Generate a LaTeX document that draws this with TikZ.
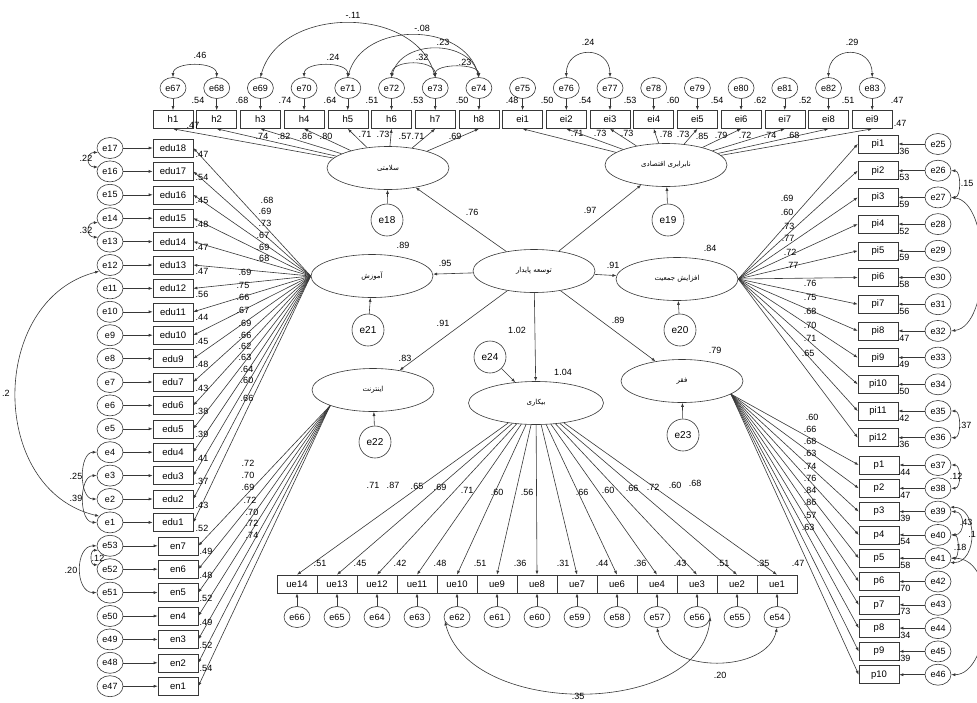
\documentclass[tikz,border=0pt]{standalone}
\usepackage{fontspec}
\setmainfont{Liberation Sans}
\newfontfamily\arabicfont[Script=Arabic]{DejaVu Sans}
\TeXXeTstate=1
\usetikzlibrary{shapes.geometric,arrows.meta}
\newcommand{\fa}[1]{{\arabicfont\fontsize{7}{8}\selectfont\beginR #1\endR}}
\begin{document}
\begin{tikzpicture}[x=1pt,y=-1pt,
  every node/.style={font=\fontsize{9}{10}\selectfont},
  ln/.style={draw=black!78, line width=0.6pt},
  arr/.style={ln, -{Latex[length=4pt,width=3pt]}},
  dbl/.style={ln, {Latex[length=4pt,width=3pt]}-{Latex[length=4pt,width=3pt]}},
  obs/.style={draw=black!78, line width=0.6pt, rectangle, minimum width=40pt, minimum height=18pt, inner sep=0, font=\fontsize{9.5}{10}\selectfont},
  err/.style={draw=black!78, line width=0.6pt, ellipse, minimum width=26pt, minimum height=21pt, inner sep=0, font=\fontsize{9}{10}\selectfont},
  lat/.style={draw=black!78, line width=0.6pt, ellipse, minimum width=122pt, minimum height=43pt, inner sep=0},
  dis/.style={draw=black!78, line width=0.6pt, circle, minimum size=32pt, inner sep=0, font=\fontsize{10}{11}\selectfont},
  lb/.style={inner sep=0}]
\useasboundingbox (0,0) rectangle (977,702);
\fill[white] (0,0) rectangle (977,702);

% ---------- latent variables ----------
\node[lat] (S) at (388,168) {\fa{سلامتی}};
\node[lat] (E) at (666,165) {\fa{نابرابری اقتصادی}};
\node[lat] (T) at (534,271) {\fa{توسعه پایدار}};
\node[lat] (A) at (372,276) {\fa{آموزش}};
\node[lat] (J) at (677,279) {\fa{افزایش جمعیت}};
\node[lat] (I) at (373,390) {\fa{اینترنت}};
\node[lat, minimum width=135pt] (B) at (536,403) {\fa{بیکاری}};
\node[lat] (F) at (682,381) {\fa{فقر}};

\node[dis] (e18) at (387,220) {e18};
\node[dis] (e19) at (668,220) {e19};
\node[dis] (e21) at (368,330) {e21};
\node[dis] (e20) at (680,330) {e20};
\node[dis] (e22) at (375,442) {e22};
\node[dis] (e24) at (490,357) {e24};
\node[dis] (e23) at (683,435) {e23};

\foreach \d/\l in {e18/S,e19/E,e21/A,e20/J,e22/I,e24/B,e23/F} \draw[arr] (\d) -- (\l);
\foreach \l in {S,E,A,J,I,B,F} \draw[arr] (T) -- (\l);

% structural labels
\node[lb] (s1) at (472,212) {.76};
\node[lb] (s2) at (590,210) {.97};
\node[lb] (s3) at (403,245) {.89};
\node[lb] (s4) at (445,263) {.95};
\node[lb] (s5) at (613,265) {.91};
\node[lb] (s6) at (710,248) {.84};
\node[lb] (s7) at (443,323) {.91};
\node[lb] (s8) at (517,330) {1.02};
\node[lb] (s9) at (618,320) {.89};
\node[lb] (s10) at (405,358) {.83};
\node[lb] (s11) at (563,372) {1.04};
\node[lb] (s12) at (715,350) {.79};

% ---------- top row ----------
\foreach \n/\e [count=\i from 0] in {h1/e67,h2/e68,h3/e69,h4/e70,h5/e71,h6/e72,h7/e73,h8/e74,ei1/e75,ei2/e76,ei3/e77,ei4/e78,ei5/e79,ei6/e80,ei7/e81,ei8/e82,ei9/e83}{
  \node[obs] (\n) at ({173+43.7*\i},119.5) {\n};
  \node[err] (\e) at ({173+43.7*\i},88) {\e};
  \draw[arr] (\e) -- (\n);
}
\foreach \n in {h1,h2,h3,h4,h5,h6,h7,h8} \draw[arr] (S) -- (\n.south);
\foreach \n in {ei1,ei2,ei3,ei4,ei5,ei6,ei7,ei8,ei9} \draw[arr] (E) -- (\n.south);

\foreach \x/\t [count=\k] in {198/.54,242/.68,285/.74,330/.64,372/.51,417/.53,462/.50,512/.48,547/.50,585/.54,630/.53,673/.60,717/.54,760/.62,805/.52,848/.51,897/.47}
  \node[lb] (rt\k) at (\x,100) {\t};
\node[lb] (rtx1) at (193,125) {.47};
\node[lb] (rtx2) at (900,123) {.47};

\foreach \x/\y/\t [count=\k] in {262/136/.74,284/136/.82,306/136/.86,326/136/.80,365/134/.71,383/134/.73,405/136/.57,418/136/.71,455/136/.69}
  \node[lb] (ls\k) at (\x,\y) {\t};
\foreach \x/\y/\t [count=\k] in {577/133/.71,600/133/.73,627/133/.73,666/134/.78,683/134/.73,702/136/.85,721/135/.79,745/135/.72,770/135/.74,793/135/.68}
  \node[lb] (le\k) at (\x,\y) {\t};

% top correlations
\draw[dbl] (e67.north) .. controls +(0,-16) and +(0,-16) .. (e68.north);
\node[lb] (c1) at (200,55) {.46};
\draw[dbl] (e70.north) .. controls +(0,-16) and +(0,-16) .. (e71.north);
\node[lb] (c2) at (333,57) {.24};
\draw[dbl] (e69.north) .. controls +(20,-72) and +(-20,-72) .. (e73.north);
\node[lb] (c3) at (353,15) {-.11};
\draw[dbl] (e71.north) .. controls +(15,-56) and +(-15,-56) .. (e74.north);
\node[lb] (c4) at (422,28) {-.08};
\draw[dbl] (e72.north) .. controls +(10,-38) and +(-10,-38) .. (e74.north);
\node[lb] (c5) at (443,42) {.23};
\draw[dbl] (e72.north) .. controls +(0,-18) and +(0,-18) .. (e73.north);
\node[lb] (c6) at (422,57) {.32};
\draw[dbl] (e73.north) .. controls +(0,-14) and +(0,-14) .. (e74.north);
\node[lb] (c7) at (465,62) {.23};
\draw[dbl] (e76.north) .. controls +(0,-32) and +(0,-32) .. (e77.north);
\node[lb] (c8) at (588,42) {.24};
\draw[dbl] (e82.north) .. controls +(0,-32) and +(0,-32) .. (e83.north);
\node[lb] (c9) at (852,42) {.29};

% ---------- left column ----------
\foreach \n/\e [count=\i from 0] in {edu18/e17,edu17/e16,edu16/e15,edu15/e14,edu14/e13,edu13/e12,edu12/e11,edu11/e10,edu10/e9,edu9/e8,edu7/e7,edu6/e6,edu5/e5,edu4/e4,edu3/e3,edu2/e2,edu1/e1}{
  \node[obs] (\n) at (173,{148+23.4*\i}) {\n};
  \node[err] (\e) at (110,{148+23.4*\i}) {\e};
  \draw[arr] (\e) -- (\n);
  \draw[arr] (A.west) -- (\n.east);
}
\foreach \n/\e [count=\i from 17] in {en7/e53,en6/e52,en5/e51,en4/e50,en3/e49,en2/e48,en1/e47}{
  \node[obs] (\n) at (178,{148+23.4*\i}) {\n};
  \node[err] (\e) at (110,{148+23.4*\i}) {\e};
  \draw[arr] (\e) -- (\n);
  \draw[arr] (I.200) -- (\n.east);
}
\foreach \t [count=\k from 0] in {.47,.54,.45,.48,.47,.47,.56,.44,.45,.48,.43,.38,.39,.41,.37,.43,.52}
  \node[lb] (rl\k) at (202,{148+23.4*\k+6}) {\t};
\foreach \t [count=\k from 17] in {.49,.48,.52,.49,.52,.54}
  \node[lb] (rn\k) at (206,{148+23.4*\k+6}) {\t};

\foreach \x/\y/\t [count=\k] in {267/200/.68,265/211/.69,265/223/.73,263/235/.67,263/247/.69,263/258/.68,245/272/.69,243/285/.75,243/297/.66,243/310/.67,245/323/.69,245/335/.66,245/346/.62,245/357/.63,247/369/.64,247/380/.60,247/398/.66}
  \node[lb] (la\k) at (\x,\y) {\t};
\foreach \x/\y/\t [count=\k] in {248/463/.72,248/475/.70,248/487/.69,250/500/.72,252/512/.70,252/523/.72,252/535/.74}
  \node[lb] (li\k) at (\x,\y) {\t};

% left correlations
\draw[dbl] (e17.200) .. controls +(-12,0) and +(-12,0) .. (e16.160);
\node[lb] (c10) at (86,158) {.22};
\draw[dbl] (e14.200) .. controls +(-12,0) and +(-12,0) .. (e13.160);
\node[lb] (c11) at (86,230) {.32};
\draw[dbl] (e12.210) .. controls (-12,300) and (-12,490) .. (e1.150);
\node[lb, anchor=west] (c12) at (2,393) {.2};
\draw[dbl] (e4.west) .. controls +(-18,0) and +(-18,0) .. (e2.west);
\node[lb] (c13) at (76,476) {.25};
\draw[dbl] (e3.west) .. controls +(-18,0) and +(-18,0) .. (e1.west);
\node[lb] (c14) at (76,498) {.39};
\draw[dbl] (e53.west) .. controls +(-22,0) and +(-22,0) .. (e51.west);
\node[lb] (c15) at (71,570) {.20};
\draw[dbl] (e53.200) .. controls +(-8,0) and +(-8,0) .. (e52.160);
\node[lb] (c16) at (98,558) {.12};

% ---------- right column ----------
\foreach \n/\e [count=\i from 0] in {pi1/e25,pi2/e26,pi3/e27,pi4/e28,pi5/e29,pi6/e30,pi7/e31,pi8/e32,pi9/e33,pi10/e34,pi11/e35,pi12/e36}{
  \node[obs] (\n) at (878,{144+26.7*\i}) {\n};
  \node[err] (\e) at (938,{144+26.7*\i}) {\e};
  \draw[arr] (\e) -- (\n);
  \draw[arr] (J.east) -- (\n.west);
}
\foreach \n/\e [count=\i from 0] in {p1/e37,p2/e38,p3/e39,p4/e40,p5/e41,p6/e42,p7/e43,p8/e44,p9/e45,p10/e46}{
  \node[obs] (\n) at (879,{465+23.3*\i}) {\n};
  \node[err] (\e) at (938,{465+23.3*\i}) {\e};
  \draw[arr] (\e) -- (\n);
  \draw[arr] (F.-15) -- (\n.west);
}
\foreach \t [count=\k from 0] in {.36,.53,.59,.52,.59,.58,.56,.47,.49,.50,.42,.36}
  \node[lb] (rp\k) at (903,{144+26.7*\k+7}) {\t};
\foreach \t [count=\k from 0] in {.44,.47,.39,.54,.58,.70,.73,.34,.39}
  \node[lb] (rq\k) at (904,{465+23.3*\k+7}) {\t};

\foreach \x/\y/\t [count=\k] in {787/198/.69,787/212/.60,788/226/.73,788/238/.77,790/252/.72,792/265/.77,810/283/.76,810/297/.75,810/311/.68,810/325/.70,810/338/.71,808/353/.65}
  \node[lb] (lj\k) at (\x,\y) {\t};
\foreach \x/\y/\t [count=\k] in {812/417/.60,810/429/.66,810/441/.68,810/453/.63,810/466/.74,810/478/.76,810/490/.84,810/502/.86,810/515/.57,808/527/.63}
  \node[lb] (lf\k) at (\x,\y) {\t};

% right correlations
\draw[dbl] (e26.east) .. controls +(10,0) and +(10,0) .. (e27.east);
\node[lb] (c17) at (967,183) {.15};
\draw[dbl] (e27.east) .. controls +(40,5) and +(40,-5) .. (e32.east);
\draw[dbl] (e35.east) .. controls +(10,0) and +(10,0) .. (e36.east);
\node[lb] (c18) at (965,425) {.37};
\draw[dbl] (e37.east) .. controls +(10,0) and +(10,0) .. (e38.east);
\node[lb] (c19) at (956,476) {.12};
\draw[dbl] (e39.east) .. controls +(14,0) and +(14,0) .. (e40.east);
\node[lb] (c20) at (966,522) {.43};
\draw[dbl] (e39.20) .. controls +(28,0) and +(28,0) .. (e41.-20);
\node[lb, anchor=east] (c21) at (976,534) {.1};
\draw[dbl] (e40.east) .. controls +(8,0) and +(8,0) .. (e41.east);
\node[lb] (c22) at (960,547) {.18};
\draw[dbl] (e41.east) .. controls +(50,0) and +(40,0) .. (e46.east);

% ---------- bottom row ----------
\foreach \n/\e [count=\i from 0] in {ue14/e66,ue13/e65,ue12/e64,ue11/e63,ue10/e62,ue9/e61,ue8/e60,ue7/e59,ue6/e58,ue4/e57,ue3/e56,ue2/e55,ue1/e54}{
  \node[obs] (\n) at ({297+40*\i},584) {\n};
  \node[err] (\e) at ({297+40*\i},617) {\e};
  \draw[arr] (\e) -- (\n);
  \draw[arr] (B) -- (\n.north);
}
\foreach \x/\t [count=\k] in {320/.51,360/.45,400/.42,440/.48,480/.51,520/.36,563/.31,602/.44,640/.36,680/.43,723/.51,763/.35,798/.47}
  \node[lb] (rb\k) at (\x,563) {\t};
\foreach \x/\y/\t [count=\k] in {373/485/.71,393/485/.87,417/486/.65,440/487/.69,467/490/.71,497/492/.60,527/492/.56,582/492/.66,608/490/.60,632/488/.66,653/487/.72,675/485/.60,695/483/.68}
  \node[lb] (lb\k) at (\x,\y) {\t};

\draw[dbl] (e62.200) .. controls (470,718) and (700,718) .. (e56.east);
\node[lb] (c23) at (578,696) {.35};
\draw[dbl] (e57.south) .. controls +(10,46) and +(-10,46) .. (e54.south);
\node[lb] (c24) at (720,675) {.20};
\end{tikzpicture}
\end{document}
